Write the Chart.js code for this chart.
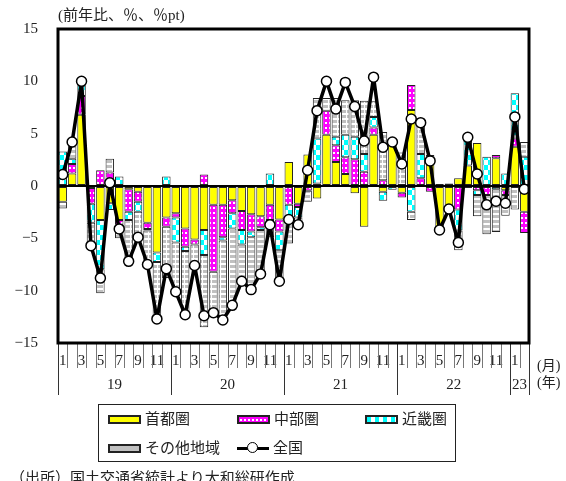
<!DOCTYPE html>
<html>
<head>
<meta charset="utf-8">
<script src="https://cdn.jsdelivr.net/npm/chart.js@4.4.1/dist/chart.umd.min.js"></script>
<style>
body { margin: 0; background: #fff; }
#wrap { position: relative; width: 566px; height: 481px; overflow: hidden;
        font-family: "Liberation Serif", "Noto Sans CJK JP", serif; color: #222; }
#c { position: absolute; left: 0; top: 0; }
.txt { position: absolute; white-space: nowrap; font-size: 15px; line-height: 1; }
#legend { position: absolute; left: 98px; top: 404px; width: 358px; height: 58px;
          border: 1.5px solid #222; box-sizing: border-box; }
.item { position: absolute; display: flex; align-items: center; font-size: 15px; line-height: 1; height: 16px; }
.sw { width: 29px; height: 5px; border: 2px solid #222; margin-right: 4px; }
.ln { position: relative; width: 32px; height: 3px; background: #000; margin-right: 4px; }
.ln span { position: absolute; left: 10px; top: -5px; width: 9px; height: 9px; border-radius: 50%;
           background: #fff; border: 1.5px solid #000; }
</style>
</head>
<body>
<div id="wrap">
  <canvas id="c" width="566" height="481"></canvas>
  <div class="txt" style="left:58px;top:8px;">(前年比、％、％pt)</div>
  <div class="txt" style="left:537px;top:359px;font-size:14px;">(月)</div>
  <div class="txt" style="left:537px;top:376px;font-size:14px;">(年)</div>
  <div id="legend">
    <div class="item" style="left:9px;top:6px;"><div class="sw" id="sw0"></div>首都圏</div>
    <div class="item" style="left:138px;top:6px;"><div class="sw" id="sw1"></div>中部圏</div>
    <div class="item" style="left:266px;top:6px;"><div class="sw" id="sw2"></div>近畿圏</div>
    <div class="item" style="left:9px;top:35px;"><div class="sw" id="sw3"></div>その他地域</div>
    <div class="item" style="left:138px;top:35px;"><div class="ln"><span></span></div>全国</div>
  </div>
  <div class="txt" style="left:10px;top:471px;">（出所）国土交通省統計より大和総研作成</div>
</div>
<script>
// years on the axis, Jan 2019 .. Feb 2023
const yearLabels = ['19', '20', '21', '22', '23'];
const monthCount = 50;

// contributions, %pt
const shuto  = [-1.5, 1.2, 6.8, -0.2, -3.25, -1.65, -3.25, -0.3, -0.55, -3.5, -6.35, -3.0,
                -2.6, -4.05, -5.1, -4.2, -1.8, -1.8, -1.35, -2.4, -2.7, -2.9, -1.8, -3.2,
                2.3, -1.7, 3.0, -1.2, 4.9, 2.3, 1.15, -0.7, -3.9, 4.9, -0.55, 4.55,
                -0.65, 7.25, -0.1, 2.15, -4.2, -2.15, 0.75, 1.95, 4.1, 0, 2.65, -0.4,
                3.75, -2.45];
const chubu  = [0, 0.9, 1.8, -1.5, 1.5, 1.3, -0.45, -2.15, -0.95, -0.6, 0, -0.9,
                -0.4, -1.75, -0.5, 1.1, -6.4, -3.1, -1.25, -1.8, -1.65, -1.05, -1.45, -1.15,
                -1.8, -0.3, -0.45, 0.25, 2.3, 1.6, 1.6, 2.55, 1.35, 0.7, 0.55, 0,
                -0.45, 2.4, 0.75, -0.55, 0, 0, -2.25, -0.2, -0.4, -0.85, 0.3, -0.45,
                0.8, -2.05];
const kinki  = [3.3, 0.5, 1.0, -1.8, -4.7, -0.65, 0.9, -0.8, -0.95, -0.15, -0.9, 0.9,
                -2.4, -0.4, 0, -2.4, 0, -0.3, -1.45, -1.4, -0.55, -0.25, 1.2, -1.8,
                -1.2, -1.0, 0, 4.3, 0, 0.8, 2.15, 2.15, 1.7, 1.0, -0.85, -0.35,
                0, -2.45, 2.3, 0, -0.2, -0.3, -2.0, 2.7, -0.45, 2.8, -0.3, 1.2,
                4.3, 2.8];
const sonota = [-0.65, 1.6, 0.4, -2.2, -2.3, 1.3, -1.3, -3.95, -2.45, -3.25, -5.45, -4.9,
                -4.7, -6.1, -2.0, -6.9, -3.9, -7.6, -7.35, -3.5, -5.0, -4.2, -1.65, -2.95,
                -2.5, -0.7, -1.05, 3.85, 1.2, 3.7, 3.3, 3.5, 5.1, 1.5, 4.6, 0,
                3.2, -0.8, 3.1, 0.8, 0.2, 0.25, -1.9, 0.2, -2.05, -3.75, -4.1, -2.0,
                -2.25, 1.4];
// nationwide, % y/y
const zenkoku = [1.1, 4.2, 10.0, -5.7, -8.8, 0.3, -4.1, -7.2, -4.9, -7.5, -12.7, -7.9,
                 -10.1, -12.3, -7.6, -12.4, -12.1, -12.8, -11.4, -9.1, -9.9, -8.4, -3.7, -9.1,
                 -3.2, -3.7, 1.5, 7.2, 10.0, 7.35, 9.9, 7.6, 4.3, 10.4, 3.7, 4.2,
                 2.1, 6.4, 6.05, 2.4, -4.2, -2.2, -5.4, 4.65, 1.15, -1.8, -1.45, -1.65,
                 6.6, -0.3];

const categories = [];
for (let i = 0; i < monthCount; i++) {
    categories.push(yearLabels[Math.floor(i / 12)] + '/' + (i % 12 + 1));
}

function makeTile(w, h, draw) {
    const c = document.createElement('canvas');
    c.width = w; c.height = h;
    draw(c.getContext('2d'));
    return c;
}

const tiles = [
    makeTile(4, 4, g => { g.fillStyle = '#ffff00'; g.fillRect(0, 0, 4, 4); }),
    makeTile(4, 5, g => { g.fillStyle = '#ff00ff'; g.fillRect(0, 0, 4, 5);
                          g.fillStyle = '#fff'; g.fillRect(1, 2, 2, 2); }),
    makeTile(8, 10, g => { g.fillStyle = '#00ffff'; g.fillRect(0, 0, 8, 10);
                           g.fillStyle = '#fff'; g.fillRect(4, 0, 4, 5); g.fillRect(0, 5, 4, 5); }),
    makeTile(9, 5, g => { g.fillStyle = '#fff'; g.fillRect(0, 0, 9, 5);
                          g.fillStyle = '#c0c0c0'; g.fillRect(0, 0, 4, 3); g.fillRect(5, 0, 4, 3); })
];

const ctx = document.getElementById('c').getContext('2d');
const fills = tiles.map(t => ctx.createPattern(t, 'repeat'));
tiles.forEach((t, i) => {
    const sw = document.getElementById('sw' + i);
    sw.style.background = 'url(' + t.toDataURL() + ')';
});
document.getElementById('sw3').style.background = '#c0c0c0';

const axisFont = { family: '"Liberation Serif", "Noto Sans CJK JP", serif', size: 15 };

const axisDecor = {
    id: 'axisDecor',
    afterDraw(chart) {
        const { ctx, chartArea: a, scales: { x } } = chart;
        const step = x.getPixelForValue(1) - x.getPixelForValue(0);
        ctx.save();
        for (let k = 0; k <= monthCount; k++) {
            const xp = k < monthCount ? x.getPixelForValue(k) - step / 2
                                      : x.getPixelForValue(monthCount - 1) + step / 2;
            const edge = k % 12 === 0 || k === monthCount;
            ctx.strokeStyle = edge ? '#333' : '#777';
            ctx.lineWidth = 1;
            ctx.beginPath();
            ctx.moveTo(Math.round(xp) + 0.5, a.bottom);
            ctx.lineTo(Math.round(xp) + 0.5, edge ? 395 : 368);
            ctx.stroke();
        }
        ctx.fillStyle = '#222';
        ctx.font = '15px ' + axisFont.family;
        ctx.textAlign = 'center';
        ctx.textBaseline = 'middle';
        yearLabels.forEach((y, i) => {
            const k0 = i * 12, k1 = Math.min(k0 + 12, monthCount);
            const x0 = x.getPixelForValue(k0) - step / 2;
            const x1 = x.getPixelForValue(k1 - 1) + step / 2;
            ctx.fillText(y, (x0 + x1) / 2, 385);
        });
        // plot frame
        ctx.strokeStyle = '#000';
        ctx.lineWidth = 3;
        ctx.strokeRect(a.left, a.top, a.right - a.left, a.bottom - a.top);
        ctx.restore();
    }
};

function barSet(label, data, i) {
    return {
        type: 'bar',
        label: label,
        data: data,
        backgroundColor: fills[i],
        borderColor: '#222',
        borderWidth: 1,
        borderSkipped: false,
        stack: 'bars',
        order: 1,
        barPercentage: 0.9,
        categoryPercentage: 1.0
    };
}

new Chart(ctx, {
    data: {
        labels: categories,
        datasets: [
            barSet('首都圏', shuto, 0),
            barSet('中部圏', chubu, 1),
            barSet('近畿圏', kinki, 2),
            barSet('その他地域', sonota, 3),
            {
                type: 'line',
                label: '全国',
                data: zenkoku,
                stack: 'total',
                order: 0,
                borderColor: '#000',
                borderWidth: 3.5,
                borderJoinStyle: 'round',
                tension: 0,
                pointRadius: 5,
                pointBackgroundColor: '#fff',
                pointBorderColor: '#000',
                pointBorderWidth: 1.5
            }
        ]
    },
    options: {
        responsive: false,
        animation: false,
        layout: { padding: { top: 29, right: 37, left: 0, bottom: 0 } },
        plugins: { legend: { display: false }, tooltip: { enabled: false } },
        scales: {
            x: {
                stacked: true,
                grid: { display: false, drawTicks: false },
                border: { display: false },
                ticks: {
                    autoSkip: false,
                    maxRotation: 0,
                    padding: 9,
                    color: '#222',
                    font: { family: axisFont.family, size: 15 },
                    callback: (v, i) => (i % 2 === 0 ? String(i % 12 + 1) : '')
                },
                afterFit: s => { s.height = 138; }
            },
            y: {
                stacked: true,
                min: -15,
                max: 15,
                border: { display: false },
                grid: {
                    drawTicks: false,
                    lineWidth: 2,
                    color: c => (c.tick && c.tick.value === 0 ? '#000' : 'rgba(0,0,0,0)')
                },
                ticks: {
                    stepSize: 5,
                    padding: 20,
                    color: '#222',
                    font: axisFont,
                    callback: v => (v < 0 ? '−' + (-v) : String(v))
                },
                afterFit: s => { s.width = 58; }
            }
        }
    },
    plugins: [axisDecor]
});
</script>
</body>
</html>
